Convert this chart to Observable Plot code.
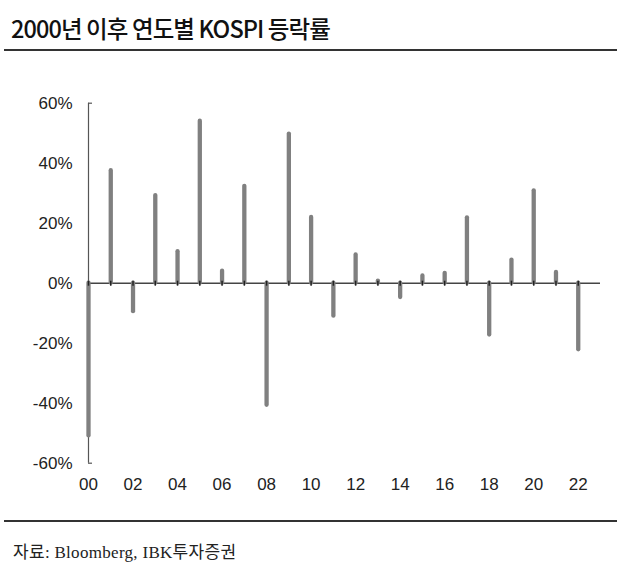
<!DOCTYPE html>
<html>
<head>
<meta charset="utf-8">
<script src="https://cdn.jsdelivr.net/npm/d3@7"></script>
<script src="https://cdn.jsdelivr.net/npm/@observablehq/plot@0.6"></script>
<style>
  html, body { margin: 0; padding: 0; background: #fff; }
  #wrap { position: relative; width: 630px; height: 571px; overflow: hidden; }
  #title { position: absolute; left: 11px; top: 11px; font-family: "Noto Sans CJK KR", sans-serif; font-size: 23.5px; font-weight: 500; color: #111; letter-spacing: -0.9px; white-space: nowrap; }
  #rule1 { position: absolute; left: 4px; top: 49px; width: 613px; height: 2px; background: #333; }
  #chart { position: absolute; left: 0; top: 60px; }
  #rule2 { position: absolute; left: 4px; top: 520px; width: 613px; height: 2px; background: #333; }
  #source { position: absolute; left: 13px; top: 538px; font-family: "Liberation Serif", "Noto Sans CJK KR", serif; font-size: 17px; color: #222; letter-spacing: 0.3px; white-space: nowrap; }
</style>
</head>
<body>
<div id="wrap">
  <div id="title">2000년 이후 연도별 KOSPI 등락률</div>
  <div id="rule1"></div>
  <div id="chart"></div>
  <div id="rule2"></div>
  <div id="source">자료: Bloomberg, IBK투자증권</div>
</div>
<script>
// Years as offsets from 2000 (00 … 22)
const years = [0, 1, 2, 3, 4, 5, 6, 7, 8, 9, 10, 11, 12, 13, 14, 15, 16, 17, 18, 19, 20, 21, 22];
// Annual KOSPI change, %
const changes = [-50.9, 37.5, -9.5, 29.2, 10.5, 54.0, 4.0, 32.3, -40.7, 49.7, 21.9, -11.0, 9.4, 0.7, -4.8, 2.4, 3.3, 21.8, -17.3, 7.7, 30.8, 3.6, -22.2];
// Axis ticks
const xTickLabels = [0, 2, 4, 6, 8, 10, 12, 14, 16, 18, 20, 22];
const yTicks = [-60, -40, -20, 0, 20, 40, 60];

const data = years.map((y, i) => ({year: y, value: changes[i]}));
const yEnds = [yTicks[0], yTicks[yTicks.length - 1]];

const chart = Plot.plot({
  width: 630,
  height: 450,
  marginTop: 42.7,
  marginBottom: 47.3,
  marginLeft: 88,
  marginRight: 30,
  style: {fontFamily: "'Liberation Sans', Arial, sans-serif", fontSize: "17px", color: "#222", background: "transparent"},
  x: {type: "linear", domain: [0, 23]},
  y: {domain: yEnds},
  marks: [
    // y axis line
    Plot.ruleX([0], {y1: yEnds[0], y2: yEnds[1], stroke: "#555", strokeWidth: 1.2}),
    // inward end ticks of y axis
    Plot.ruleY(yEnds, {y: d => d, x1: 0, x2: 0, insetLeft: 0, insetRight: -4, stroke: "#555", strokeWidth: 1.2}),
    // zero line
    Plot.ruleY([0], {stroke: "#444", strokeWidth: 1.5}),
    // bars
    Plot.ruleX(data, {x: "year", y1: 0, y2: "value", stroke: "#808080", strokeWidth: 4.3, strokeLinecap: "round"}),
    // small ticks at each year on the zero line
    Plot.ruleX(years, {x: d => d, y1: 0, y2: 0, insetTop: -2, insetBottom: -3, stroke: "#222", strokeWidth: 1.5}),
    Plot.axisY({ticks: yTicks, tickFormat: d => d + "%", tickSize: 0, tickPadding: 16, label: null}),
    Plot.axisX({ticks: xTickLabels, tickFormat: d => String(d).padStart(2, "0"), tickSize: 0, tickPadding: 15, label: null})
  ]
});
document.getElementById("chart").appendChild(chart);
</script>
</body>
</html>
